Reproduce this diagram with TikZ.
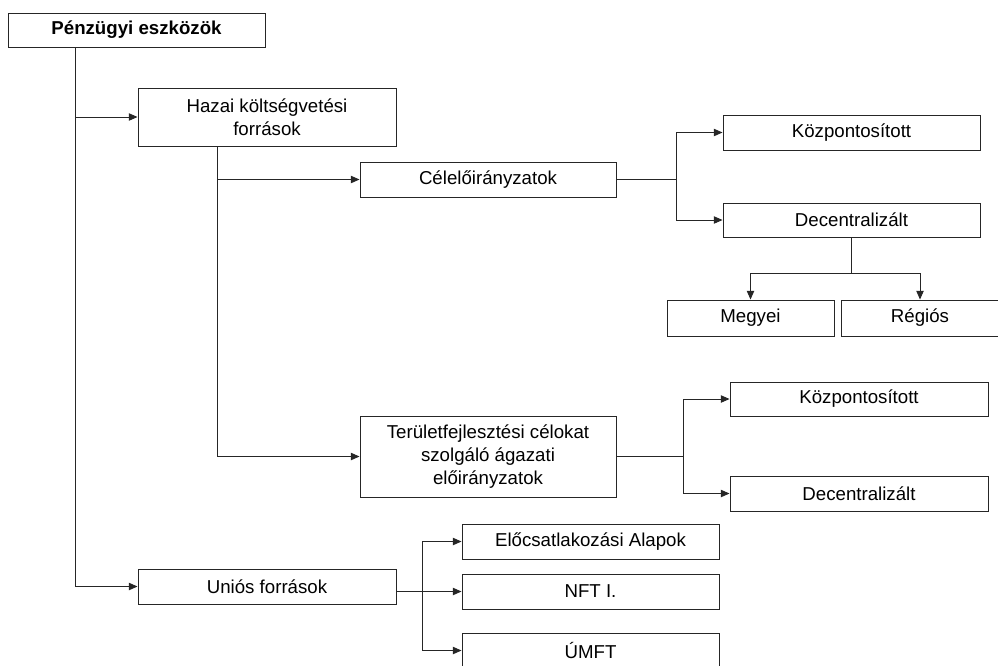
\documentclass[tikz,border=0pt]{standalone}
\usepackage{fontspec}
\setmainfont{Liberation Sans}
\usetikzlibrary{arrows.meta}
\begin{document}
\begin{tikzpicture}[x=0.75pt,y=-0.75pt,
  bx/.style 2 args={draw=black!85, line width=0.7pt, fill=white, inner sep=0pt,
     minimum width=#1*0.75pt, minimum height=#2*0.75pt, align=center,
     font=\fontsize{14}{17}\selectfont},
  ln/.style={draw=black!85, line width=0.7pt},
  arr/.style={ln, -{Triangle[length=6.5pt,width=5.5pt]}}]
\useasboundingbox (0,0) rectangle (998,665);
% boxes
\node[bx={257}{34}] (pe) at (136.5,30) {\textbf{Pénzügyi eszközök}};
\node[bx={258}{58}] (hazai) at (267,117) {Hazai költségvetési\\források};
\node[bx={256}{35}] (cel) at (488,179.5) {Célelőirányzatok};
\node[bx={257}{35}] (kozp1) at (851.5,132.5) {Központosított};
\node[bx={257}{34}] (dec1) at (851.5,220) {Decentralizált};
\node[bx={167}{36}] (megyei) at (750.5,318) {Megyei};
\node[bx={158}{36}] (regios) at (920,318) {Régiós};
\node[bx={256}{81}] (ter) at (488,456.5) {Területfejlesztési célokat\\szolgáló ágazati\\előirányzatok};
\node[bx={258}{34}] (kozp2) at (859,399) {Központosított};
\node[bx={258}{35}] (dec2) at (859,493.5) {Decentralizált};
\node[bx={258}{35}] (unios) at (267,586.5) {Uniós források};
\node[bx={257}{35}] (eloc) at (590.5,541.5) {Előcsatlakozási Alapok};
\node[bx={257}{35}] (nft) at (590.5,591.5) {NFT I.};
\node[bx={257}{35}] (umft) at (590.5,650.5) {ÚMFT};
% helper coordinates
\coordinate (t) at (75,0);
\coordinate (h) at (217,0);
\coordinate (c) at (676,0);
\coordinate (d) at (0,273);
\coordinate (e) at (683,0);
\coordinate (u) at (422,0);
% connectors
\draw[arr] (t |- pe.south) |- (unios.west);
\draw[arr] (t |- hazai.west) -- (hazai.west);
\draw[arr] (h |- hazai.south) |- (ter.west);
\draw[arr] (h |- cel.west) -- (cel.west);
\draw[arr] (cel.east) -- (c |- cel.east) |- (kozp1.west);
\draw[arr] (c |- cel.east) |- (dec1.west);
\draw[ln] (dec1.south) -- (dec1.south |- d);
\draw[arr] (dec1.south |- d) -| (megyei.north);
\draw[arr] (dec1.south |- d) -| (regios.north);
\draw[arr] (ter.east) -- (e |- ter.east) |- (kozp2.west);
\draw[arr] (e |- ter.east) |- (dec2.west);
\draw[arr] (unios.east |- nft.west) -- (nft.west);
\draw[arr] (u |- eloc.west) -- (eloc.west);
\draw[arr] (u |- eloc.west) |- (umft.west);
\end{tikzpicture}
\end{document}
